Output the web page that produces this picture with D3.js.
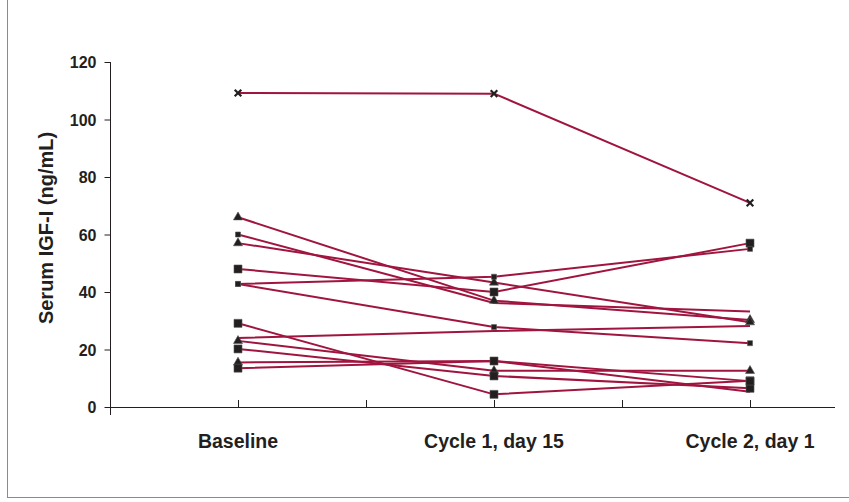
<!DOCTYPE html>
<html>
<head>
<meta charset="utf-8">
<script src="https://cdn.jsdelivr.net/npm/d3@7"></script>
<style>
  html, body { margin: 0; padding: 0; background: #fff; }
  svg { display: block; }
  text { font-family: "Liberation Sans", Arial, sans-serif; font-weight: bold; fill: #231f20; }
</style>
</head>
<body>
<svg id="chart" width="849" height="502"></svg>
<script>
// ---- data ----
const categories = ["Baseline", "Cycle 1, day 15", "Cycle 2, day 1"];
const yTickValues = [0, 20, 40, 60, 80, 100, 120];
const yLabel = "Serum IGF-I (ng/mL)";

const p01 = [109.2, 109.0, 71.0];
const p02 = [66.0, 37.0, 30.3];
const p03 = [60.0, 36.2, 33.2];
const p04 = [57.0, 43.3, 29.5];
const p05 = [48.0, 40.0, 57.0];
const p06 = [42.8, 45.3, 55.0];
const p07 = [42.8, 27.8, 22.2];
const p08 = [24.0, 26.4, 28.2];
const p09 = [23.0, 12.6, 12.6];
const p10 = [29.1, 4.4, 9.1];
const p11 = [20.2, 10.8, 6.5];
const p12 = [15.5, 16.0, 5.3];
const p13 = [13.5, 16.0, 9.0];
const patients = [p01, p02, p03, p04, p05, p06, p07, p08, p09, p10, p11, p12, p13];

// marker symbol shown at each time point for each patient
const markerKinds = [
  ["cross", "cross", "cross"],
  ["triangle", "triangle", "triangle"],
  ["smallSquare", "none", "none"],
  ["triangle", "triangle", "triangle"],
  ["square", "square", "square"],
  ["smallSquare", "smallSquare", "smallSquare"],
  ["smallSquare", "smallSquare", "smallSquare"],
  ["none", "none", "none"],
  ["triangle", "triangle", "triangle"],
  ["square", "square", "square"],
  ["square", "square", "square"],
  ["triangle", "none", "none"],
  ["square", "square", "square"]
];

// ---- layout ----
const svg = d3.select("#chart");
const lineColor = "#a0153f";
const markColor = "#231f20";

const x = d3.scalePoint().domain(categories).range([110, 878]).padding(0.5);
const y = d3.scaleLinear().domain([0, 120]).range([407, 62]);

// frame
svg.append("rect").attr("x", 7.5).attr("y", -2).attr("width", 850).attr("height", 499.5)
  .attr("fill", "none").attr("stroke", "#8a8a8a").attr("stroke-width", 1);

// y axis
const yAxis = d3.axisLeft(y).tickValues(yTickValues).tickSize(6).tickPadding(8).tickFormat(d3.format("d"));
const gy = svg.append("g").attr("transform", "translate(110.5,0)").call(yAxis);
gy.select(".domain").remove();
gy.append("line").attr("x1", 0).attr("x2", 0).attr("y1", y(120)).attr("y2", y(0) + 8)
  .attr("stroke", "#231f20");
gy.selectAll(".tick line").attr("stroke", "#231f20");
gy.selectAll(".tick text").style("font-size", "16px").style("font-family", "Liberation Sans, Arial, sans-serif")
  .style("font-weight", "bold").attr("fill", "#231f20").attr("dy", "0.35em");

// x axis line with category boundaries & centre ticks
const step = x.step();
const tickXs = [];
categories.forEach(c => { tickXs.push(x(c) - step / 2); tickXs.push(x(c)); });
svg.append("line").attr("x1", 110).attr("x2", 835).attr("y1", y(0) + 0.5).attr("y2", y(0) + 0.5)
  .attr("stroke", "#231f20");
svg.selectAll(".xt").data(tickXs.filter(t => t > 112)).enter().append("line")
  .attr("x1", d => Math.round(d) + 0.5).attr("x2", d => Math.round(d) + 0.5)
  .attr("y1", y(0)).attr("y2", y(0) - 7).attr("stroke", "#231f20");

svg.selectAll(".xl").data(categories).enter().append("text")
  .attr("x", d => x(d)).attr("y", 448).attr("text-anchor", "middle")
  .style("font-size", "19.5px").text(d => d);

// y title
svg.append("text").attr("transform", "translate(53,228) rotate(-90)")
  .attr("text-anchor", "middle").style("font-size", "20px").text(yLabel);

// lines
const line = d3.line().x((d, i) => x(categories[i])).y(d => y(d));
svg.append("g").selectAll("path").data(patients).enter().append("path")
  .attr("d", d => line(d)).attr("fill", "none").attr("stroke", lineColor)
  .attr("stroke-width", 2).attr("stroke-linejoin", "round");

// markers
const pts = [];
patients.forEach((p, si) => p.forEach((v, i) => pts.push({ v, i, kind: markerKinds[si][i] })));
const mg = svg.append("g");
pts.filter(d => d.kind !== "none").forEach(d => {
  const cx = x(categories[d.i]), cy = y(d.v);
  let path;
  if (d.kind === "square") path = d3.symbol(d3.symbolSquare, 64)();
  else if (d.kind === "smallSquare") path = d3.symbol(d3.symbolSquare, 25)();
  else if (d.kind === "triangle") path = d3.symbol(d3.symbolTriangle, 36)();
  else path = d3.symbol(d3.symbolX, 30)();
  const el = mg.append("path").attr("d", path).attr("transform", `translate(${cx},${cy})`);
  if (d.kind === "cross") el.attr("fill", "none").attr("stroke", markColor).attr("stroke-width", 2.2);
  else el.attr("fill", markColor).attr("stroke", "#555").attr("stroke-width", 0.6);
});
</script>
</body>
</html>
